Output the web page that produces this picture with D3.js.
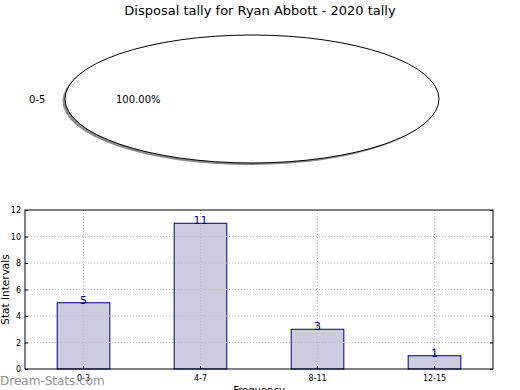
<!DOCTYPE html>
<html>
<head>
<meta charset="utf-8">
<script src="https://cdn.jsdelivr.net/npm/d3@7"></script>
<style>
body { margin: 0; background: #fff; }
text { font-family: "DejaVu Sans", sans-serif; }
</style>
</head>
<body>
<div id="chart"></div>
<script>
const title = "Disposal tally for Ryan Abbott - 2020 tally";
const pieLabels = ["0-5"];
const pieValues = [1];
const categories = ["0-3", "4-7", "8-11", "12-15"];
const counts = [5, 11, 3, 1];
const yTicks = [0, 2, 4, 6, 8, 10, 12];

const width = 520, height = 390;
const svg = d3.select("#chart").append("svg")
    .attr("width", width)
    .attr("height", height);

svg.append("text")
    .attr("x", 260)
    .attr("y", 15)
    .attr("text-anchor", "middle")
    .attr("font-size", "13px")
    .attr("fill", "#000")
    .text(title);

// pie (squashed into an ellipse), grey shadow behind it
const cx = 252, cy = 99, rx = 187, ry = 64;
const pie = d3.pie().sort(null)(pieValues);
const arc = d3.arc().innerRadius(0).outerRadius(1);
const pieG = svg.append("g");

pieG.selectAll("path.shadow")
    .data(pie)
    .enter()
    .append("path")
    .attr("class", "shadow")
    .attr("d", arc)
    .attr("transform", `translate(${cx - 2.5},${cy + 2}) scale(${rx},${ry})`)
    .attr("fill", "#8c8c8c");

pieG.selectAll("path.slice")
    .data(pie)
    .enter()
    .append("path")
    .attr("class", "slice")
    .attr("d", arc)
    .attr("transform", `translate(${cx},${cy}) scale(${rx},${ry})`)
    .attr("fill", "#fff")
    .attr("stroke", "#000")
    .attr("stroke-width", 1)
    .attr("vector-effect", "non-scaling-stroke");

pie.forEach((d, i) => {
    svg.append("text")
        .attr("x", 29).attr("y", cy + 4)
        .attr("font-size", "10px")
        .text(pieLabels[i]);
    const pct = d3.format(".2%")(d.value / d3.sum(pieValues));
    svg.append("text")
        .attr("x", 116).attr("y", cy + 4)
        .attr("font-size", "10px")
        .text(pct);
});

// bar chart
const m = { left: 25, right: 493, top: 210, bottom: 369 };
const x = d3.scaleBand().domain(categories).range([m.left, m.right]).paddingInner(0).paddingOuter(0);
const y = d3.scaleLinear().domain([0, 12]).range([m.bottom, m.top]);
const barW = x.bandwidth() * 0.45;

svg.selectAll("rect.bar")
    .data(counts)
    .enter()
    .append("rect")
    .attr("class", "bar")
    .attr("x", (d, i) => x(categories[i]) + x.bandwidth() / 2 - barW / 2)
    .attr("y", d => y(d))
    .attr("width", barW)
    .attr("height", d => y(0) - y(d))
    .attr("fill", "#ccccdf")
    .attr("stroke", "#000080")
    .attr("stroke-width", 1);

// dotted grid on top of the bars
const grid = svg.append("g");
yTicks.slice(1, -1).forEach(t => {
    grid.append("line")
        .attr("x1", m.left).attr("x2", m.right)
        .attr("y1", y(t)).attr("y2", y(t))
        .attr("stroke", "#bbb").attr("stroke-dasharray", "1,2");
});
categories.forEach(c => {
    const xc = x(c) + x.bandwidth() / 2;
    grid.append("line")
        .attr("x1", xc).attr("x2", xc)
        .attr("y1", m.top).attr("y2", m.bottom)
        .attr("stroke", "#bbb").attr("stroke-dasharray", "1,2");
});

svg.selectAll("text.val")
    .data(counts)
    .enter()
    .append("text")
    .attr("class", "val")
    .attr("x", (d, i) => x(categories[i]) + x.bandwidth() / 2)
    .attr("y", d => y(d) + 1)
    .attr("text-anchor", "middle")
    .attr("font-size", "11px")
    .attr("fill", "#000080")
    .text(d => d);

svg.append("rect")
    .attr("x", m.left).attr("y", m.top)
    .attr("width", m.right - m.left).attr("height", m.bottom - m.top)
    .attr("fill", "none").attr("stroke", "#000").attr("stroke-width", 1);

const yAxis = d3.axisLeft(y).tickValues(yTicks).tickSize(-3).tickPadding(4);
svg.append("g")
    .attr("transform", `translate(${m.left},0)`)
    .call(yAxis)
    .call(g => g.select(".domain").remove())
    .call(g => g.selectAll("text").attr("font-size", "8px").attr("font-family", "DejaVu Sans"));

svg.append("g")
    .attr("transform", `translate(${m.right},0)`)
    .call(d3.axisRight(y).tickValues(yTicks).tickSize(-3).tickFormat(""))
    .call(g => g.select(".domain").remove());

const xAxis = d3.axisBottom(x).tickSize(-3).tickPadding(6);
svg.append("g")
    .attr("transform", `translate(0,${m.bottom})`)
    .call(xAxis)
    .call(g => g.select(".domain").remove())
    .call(g => g.selectAll("text").attr("font-size", "8px").attr("font-family", "DejaVu Sans"));

svg.append("text")
    .attr("transform", `translate(9,${(m.top + m.bottom) / 2}) rotate(-90)`)
    .attr("text-anchor", "middle")
    .attr("font-size", "10.5px")
    .text("Stat Intervals");

svg.append("text")
    .attr("x", 259).attr("y", 394)
    .attr("text-anchor", "middle")
    .attr("font-size", "10px")
    .text("Frequency");

svg.append("text")
    .attr("x", 0).attr("y", 385)
    .attr("font-size", "12px")
    .attr("fill", "#888")
    .attr("opacity", 0.9)
    .text("Dream-Stats.com");
</script>
</body>
</html>
